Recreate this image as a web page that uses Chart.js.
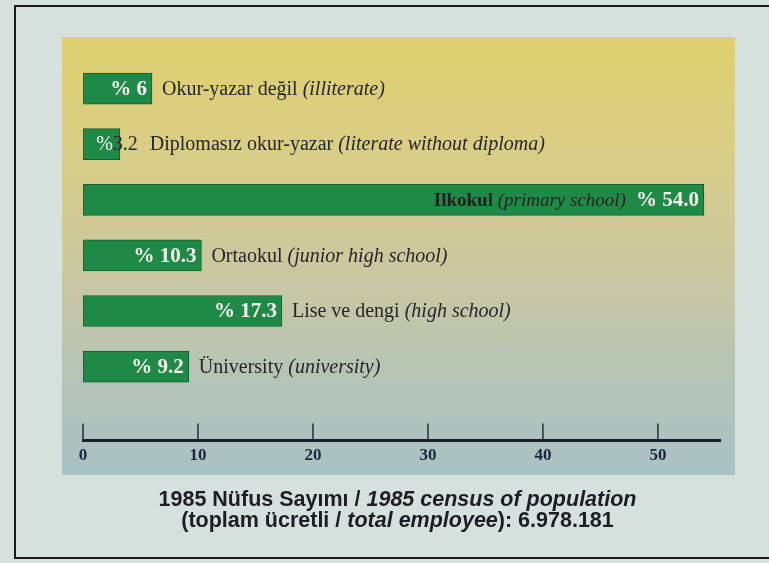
<!DOCTYPE html>
<html>
<head>
<meta charset="utf-8">
<script src="https://cdn.jsdelivr.net/npm/chart.js@4"></script>
<style>
html,body{margin:0;padding:0;}
body{width:769px;height:563px;background:#d6e0dc;position:relative;overflow:hidden;}
#frame{position:absolute;left:14px;top:5px;width:820px;height:550px;border:2px solid #1c1c1c;border-right:none;}
#panel{position:absolute;left:62px;top:37px;width:673px;height:438px;
background:linear-gradient(180deg,#ded06f 0%,#d9ce84 25%,#c9c7a2 55%,#b3c3b8 80%,#a9c2c3 100%);}
#wrap{position:absolute;left:0;top:0;width:769px;height:563px;}
#caption{position:absolute;left:13px;width:769px;top:489px;text-align:center;
font-family:"Liberation Sans",Arial,sans-serif;font-weight:bold;font-size:21.5px;line-height:21px;color:#1e1e22;}
#caption i{font-style:italic;}
</style>
</head>
<body>
<div id="frame"></div>
<div id="panel"></div>
<div id="wrap"><canvas id="eduChart"></canvas></div>
<div id="caption">
1985 Nüfus Sayımı / <i>1985 census of population</i><br>
(toplam ücretli / <i>total employee</i>): 6.978.181
</div>

<script>
/* =========================
   EDUCATION LEVEL BARS
========================= */

const labelsTr = [
"Okur-yazar değil",
"Diplomasız okur-yazar",
"Ilkokul",
"Ortaokul",
"Lise ve dengi",
"Üniversity"
];

const labelsEn = [
"illiterate",
"literate without diploma",
"primary school",
"junior high school",
"high school",
"university"
];

const shares = [6, 3.2, 54.0, 10.3, 17.3, 9.2];

const shareText = ["% 6", "%3.2", "% 54.0", "% 10.3", "% 17.3", "% 9.2"];

const xTicks = [0, 10, 20, 30, 40, 50];

const serif = '"Liberation Serif", "DejaVu Serif", serif';
const dark = "#262626";
const light = "#f6f5ee";

// labels next to / inside the bars + upward tick marks
const barText = {
id: "barText",
afterDatasetsDraw(chart){
const ctx = chart.ctx;
const meta = chart.getDatasetMeta(0);
ctx.save();
ctx.textBaseline = "middle";

meta.data.forEach((bar, i)=>{
const end = bar.x;
const start = bar.base;
const y = bar.y + 1;
const w = end - start;

ctx.font = "bold 21px " + serif;
const valW = ctx.measureText(shareText[i]).width;

ctx.font = "20px " + serif;
const trW = ctx.measureText(labelsTr[i] + " ").width;
ctx.font = "italic 20px " + serif;
const enW = ctx.measureText("(" + labelsEn[i] + ")").width;

let descX;
if(w > valW + trW + enW + 40){
// everything fits inside the bar
ctx.font = "bold 21px " + serif;
ctx.fillStyle = light;
ctx.textAlign = "right";
ctx.fillText(shareText[i], end - 5, y);
ctx.font = "bold 19px " + serif;
const inTrW = ctx.measureText(labelsTr[i] + " ").width;
ctx.font = "italic 19px " + serif;
const inEnW = ctx.measureText("(" + labelsEn[i] + ")").width;
descX = end - 5 - valW - 10 - inTrW - inEnW;
ctx.textAlign = "left";
ctx.fillStyle = "#15231a";
ctx.font = "bold 19px " + serif;
ctx.fillText(labelsTr[i], descX, y);
ctx.font = "italic 19px " + serif;
ctx.fillText("(" + labelsEn[i] + ")", descX + inTrW, y);
return;
}
ctx.font = "bold 21px " + serif;
if(w > valW + 10){
ctx.fillStyle = light;
ctx.textAlign = "right";
ctx.fillText(shareText[i], end - 5, y);
descX = end + 10;
}else{
// value does not fit: "%" stays on the bar, number spills out
ctx.font = "20px " + serif;
const num = shareText[i].replace("%", "").trim();
ctx.textAlign = "right";
ctx.fillStyle = light;
ctx.fillText("%", end - 7, y);
ctx.textAlign = "left";
ctx.fillStyle = dark;
ctx.fillText(num, end - 7, y);
descX = end - 7 + ctx.measureText(num).width + 12;
}
ctx.textAlign = "left";
ctx.fillStyle = dark;
ctx.font = "20px " + serif;
ctx.fillText(labelsTr[i], descX, y);
ctx.font = "italic 20px " + serif;
ctx.fillText("(" + labelsEn[i] + ")", descX + trW, y);
});

// tick marks pointing up from the axis
const xs = chart.scales.x;
const base = chart.chartArea.bottom;
ctx.strokeStyle = "#2a2d38";
ctx.lineWidth = 1.5;
xTicks.forEach(v=>{
const px = xs.getPixelForValue(v);
ctx.beginPath();
ctx.moveTo(px, base);
ctx.lineTo(px, base - 17);
ctx.stroke();
});
ctx.restore();
}
};

new Chart(document.getElementById("eduChart"),{

type:"bar",

data:{
datasets:[
{
label:"1985",
data:shares.map((v, i)=>({x:v, y:i})),
backgroundColor:"#1f8a47",
borderColor:"#135e30",
borderWidth:1,
borderSkipped:false,
barThickness:31
}
]
},

options:{
indexAxis:"y",
responsive:true,
maintainAspectRatio:false,
animation:false,
layout:{
padding:{left:83, right:49, top:58, bottom:92}
},
plugins:{
legend:{display:false},
tooltip:{enabled:false}
},
scales:{
x:{
type:"linear",
min:0,
max:55.4,
afterBuildTicks:(scale)=>{
scale.ticks = xTicks.map(v=>({value:v}));
},
grid:{display:false, drawTicks:false},
border:{display:true, color:"#1d2030", width:3},
ticks:{
color:"#1d2540",
padding:5,
font:{family:serif, weight:"bold", size:17}
}
},
y:{
type:"linear",
reverse:true,
offset:false,
min:-0.55,
max:6.33,
display:false
}
}
},

plugins:[barText]

});
</script>
</body>
</html>
